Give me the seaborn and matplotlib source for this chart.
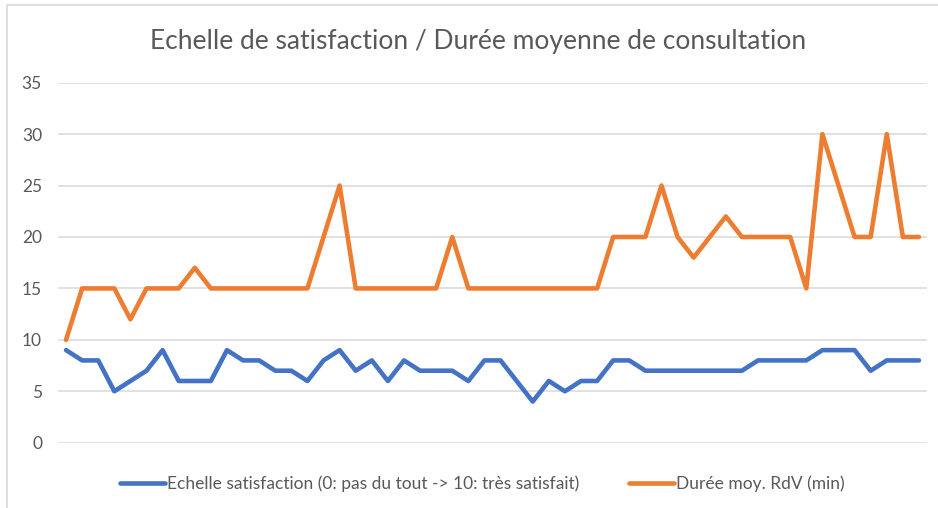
import numpy as np
import pandas as pd
import matplotlib
matplotlib.use('Agg')
import matplotlib.pyplot as plt
from matplotlib.patches import Rectangle
from matplotlib.lines import Line2D
import seaborn as sns

# Données (une valeur par consultation)
satisfaction = [9, 8, 8, 5, 6, 7, 9, 6, 6, 6, 9, 8, 8, 7, 7, 6, 8, 9,
                7, 8, 6, 8, 7, 7, 7, 6, 8, 8, 6, 4, 6, 5, 6, 6, 8, 8,
                7, 7, 7, 7, 7, 7, 7, 8, 8, 8, 8, 9, 9, 9, 7, 8, 8, 8]
duree = [10, 15, 15, 15, 12, 15, 15, 15, 17, 15, 15, 15, 15, 15, 15, 15, 20, 25,
         15, 15, 15, 15, 15, 15, 20, 15, 15, 15, 15, 15, 15, 15, 15, 15, 20, 20,
         20, 25, 20, 18, 20, 22, 20, 20, 20, 20, 15, 30, 25, 20, 20, 30, 20, 20]
lab_satis = 'Echelle satisfaction (0: pas du tout -> 10: très satisfait)'
lab_duree = 'Durée moy. RdV (min)'
titre = 'Echelle de satisfaction / Durée moyenne de consultation'
yticks = [0, 5, 10, 15, 20, 25, 30, 35]
couleurs = ['#4472C4', '#ED7D31']

df = pd.DataFrame({'idx': np.arange(len(satisfaction)),
                   lab_satis: satisfaction, lab_duree: duree})
df_long = df.melt(id_vars='idx', var_name='serie', value_name='valeur')

sns.set_style('white')
plt.rcParams['font.family'] = ['Lato', 'DejaVu Sans']
gris = '#595959'

fig = plt.figure(figsize=(9.38, 5.08), dpi=100)
ax = fig.add_axes([58/938, 1 - 442.7/508, (927 - 58)/938, 360/508])

sns.lineplot(data=df_long, x='idx', y='valeur', hue='serie',
             palette=couleurs, linewidth=3.3, ax=ax, legend=False)

ax.set_xlim(-0.5, len(satisfaction) - 0.5)
ax.set_ylim(0, 35)
ax.set_yticks(yticks)
ax.set_xticks([])
ax.set_xlabel('')
ax.set_ylabel('')
ax.grid(axis='y', color='#d9d9d9', linewidth=1.1)
ax.set_axisbelow(True)
for s in ax.spines.values():
    s.set_visible(False)
ax.tick_params(axis='y', length=0, pad=11.5, labelsize=12.5, labelcolor=gris)

fig.text(478/938, 1 - 42/508, titre, ha='center', va='center',
         fontsize=19, color=gris)

# légende en bas
handles = [Line2D([], [], color=c, linewidth=3.3) for c in couleurs]
fig.legend(handles, [lab_satis, lab_duree], loc='center',
           bbox_to_anchor=(482.2/938, 1 - 484/508), ncol=2, frameon=False,
           fontsize=12.5, labelcolor=gris, handlelength=2.6, handletextpad=0.1,
           columnspacing=2.9)

# cadre du graphique
fig.patches.append(Rectangle((7/938, -0.1), 1.2, 1 - 5/508 + 0.1,
                             transform=fig.transFigure, fill=False,
                             edgecolor='#d9d9d9', linewidth=1.2))

fig.savefig('out.png', dpi=100)
